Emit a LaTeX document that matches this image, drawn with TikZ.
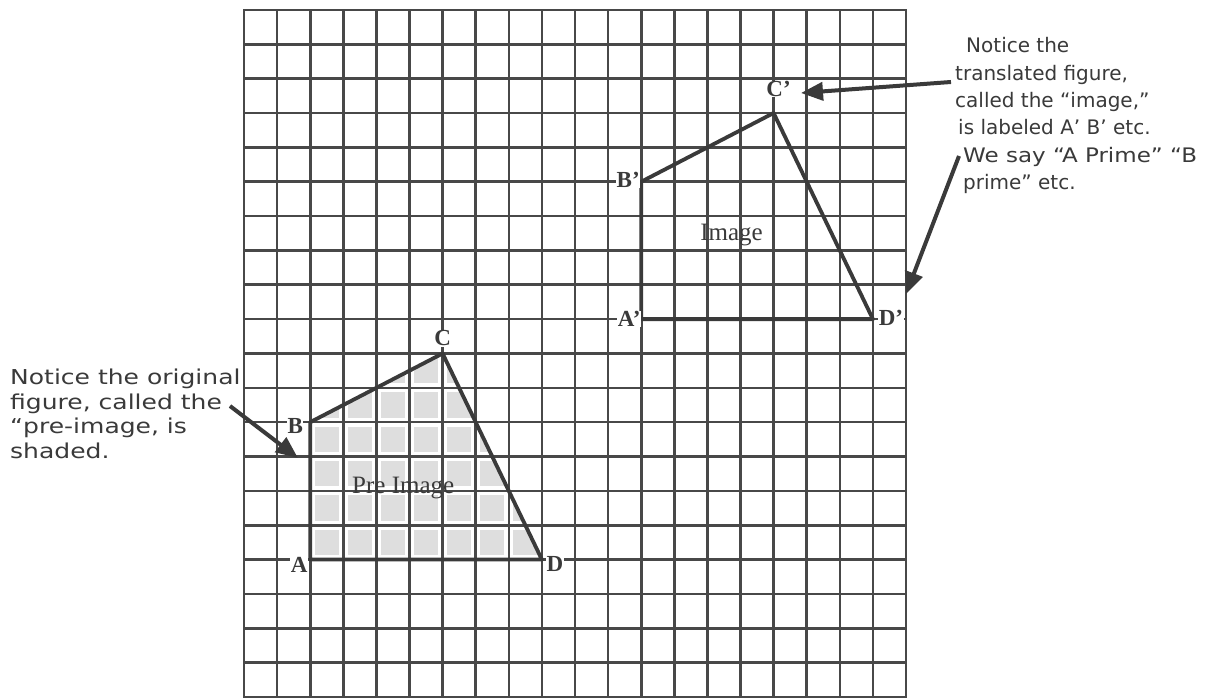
\documentclass[tikz,border=0pt]{standalone}
\usepackage{fontspec}
\setmainfont{Liberation Serif}
\newfontfamily\notefontL[FakeStretch=1.22]{DejaVu Sans}
\newfontfamily\notefontR{DejaVu Sans}
\newfontfamily\notefontW[FakeStretch=1.15]{DejaVu Sans}
\usetikzlibrary{arrows.meta,calc}
\definecolor{gridc}{RGB}{72,72,72}
\definecolor{ink}{RGB}{58,58,58}
\definecolor{shadec}{RGB}{222,222,222}
\begin{document}
\begin{tikzpicture}[
  gridl/.style={draw=gridc, line width=2.6pt, line cap=rect},
  side/.style={draw=ink, line width=3.8pt, line join=round, line cap=round},
  vlbl/.style={font=\fontsize{23}{23}\selectfont\bfseries, text=ink, fill=white, inner sep=0.5pt},
  flbl/.style={font=\fontsize{25}{25}\selectfont, text=ink, inner sep=0pt},
  noteL/.style={font=\notefontL\fontsize{20.5}{24}\selectfont, text=ink, anchor=base west, inner sep=0pt},
  noteR/.style={font=\notefontR\fontsize{20}{28}\selectfont, text=ink, anchor=base west, inner sep=0pt},
  pointer/.style={draw=ink, line width=4pt, -{Triangle[length=22pt,width=18pt]}},
]
\useasboundingbox[fill=white] (0,0) rectangle (1231pt,698pt);

\begin{scope}[shift={(244pt,688pt)}, x={(33.1pt,0pt)}, y={(0pt,-34.35pt)}]
  % pre-image vertices
  \coordinate (A) at (2,16);
  \coordinate (B) at (2,12);
  \coordinate (C) at (6,10);
  \coordinate (D) at (9,16);
  % image vertices
  \coordinate (A') at (12,9);
  \coordinate (B') at (12,5);
  \coordinate (C') at (16,3);
  \coordinate (D') at (19,9);
  % shading of the pre-image
  \begin{scope}
    \clip (A) -- (B) -- (C) -- (D) -- cycle;
    \foreach \i in {2,...,8} \foreach \j in {10,...,15}
      \fill[shadec] (\i+0.14,\j+0.13) rectangle (\i+0.86,\j+0.87);
  \end{scope}
  % grid
  \foreach \i in {0,...,20} \draw[gridl] (\i,0) -- (\i,20);
  \foreach \j in {0,...,20} \draw[gridl] (0,\j) -- (20,\j);
  % figures
  \draw[side] (A) -- (B) -- (C) -- (D) -- cycle;
  \draw[side] (A') -- (B') -- (C') -- (D') -- cycle;
  \node[flbl] (pre) at (4.81,13.92) {Pre Image};
  \node[flbl] (img) at (14.73,6.55) {Image};
\end{scope}

% vertex labels
\node[vlbl] (lA) at ([shift={(-11pt,-5pt)}]A) {A};
\node[vlbl] (lB) at ([shift={(-15pt,-4pt)}]B) {B};
\node[vlbl] (lC) at ([shift={(0pt,15pt)}]C) {C};
\node[vlbl] (lD) at ([shift={(13pt,-4pt)}]D) {D};
\node[vlbl] (lA') at ([shift={(-12pt,0pt)}]A') {A’};
\node[vlbl] (lB') at ([shift={(-13pt,2pt)}]B') {B’};
\node[vlbl] (lC') at ([shift={(5pt,24pt)}]C') {C’};
\node[vlbl] (lD') at ([shift={(18pt,1pt)}]D') {D’};

% left note
\node[noteL] (nL1) at (10pt,313pt) {Notice the original};
\node[noteL] (nL2) at (10pt,288.5pt) {figure, called the};
\node[noteL] (nL3) at (10pt,264pt) {“pre-image, is};
\node[noteL] (nL4) at (10pt,239.5pt) {shaded.};

% right note
\node[noteR] (nR1) at (966pt,645pt) {Notice the};
\node[noteR] (nR2) at (955pt,617pt) {translated figure,};
\node[noteR] (nR3) at (955pt,590pt) {called the “image,”};
\node[noteR] (nR4) at (958pt,563pt) {is labeled A’ B’ etc.};
\node[noteR, font=\notefontW\fontsize{20}{28}\selectfont] (nR5) at (963pt,535pt) {We say “A Prime” “B};
\node[noteR] (nR6) at (963pt,508pt) {prime” etc.};

% pointers
\coordinate (tL) at (230pt,292pt);
\coordinate (hL) at (298pt,240pt);
\coordinate (tR1) at (951pt,616pt);
\coordinate (hR1) at (801pt,605pt);
\coordinate (tR2) at (959pt,542pt);
\coordinate (hR2) at (906pt,404pt);
\draw[pointer] (tL) -- (hL);
\draw[pointer] (tR1) -- (hR1);
\draw[pointer] (tR2) -- (hR2);
\end{tikzpicture}
\end{document}
